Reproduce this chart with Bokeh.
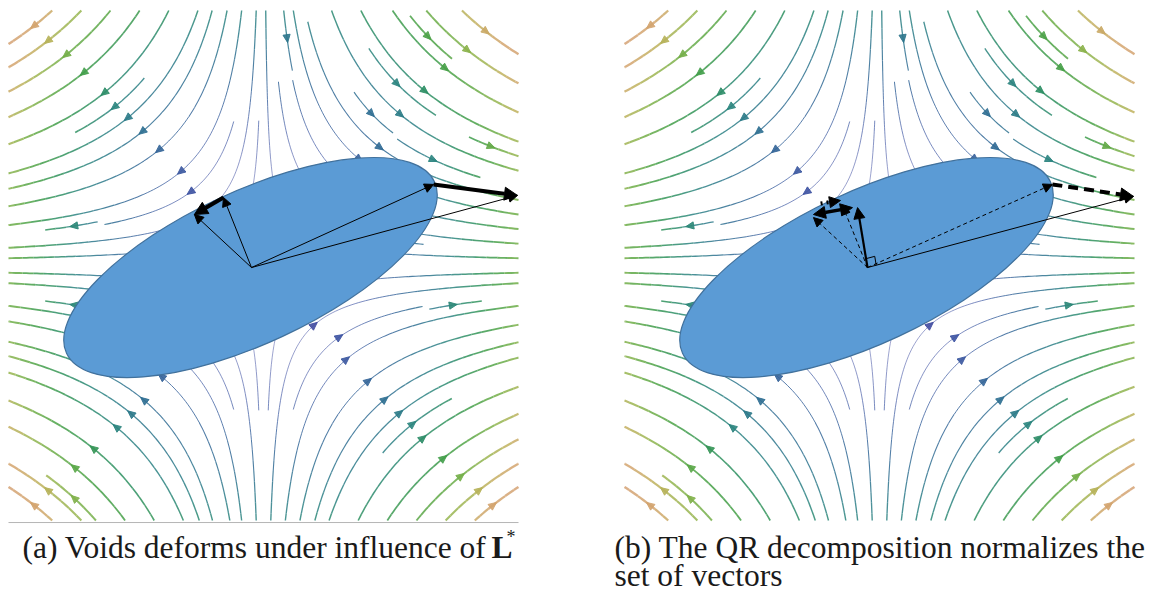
import numpy as np
from bokeh.plotting import figure
from bokeh.layouts import row
from bokeh.models import Range1d, Label, Arrow, NormalHead, ColumnDataSource
from bokeh.embed import file_html
from bokeh.resources import INLINE

# ------------------------------------------------------------------ data
L_STAR = [[1.0, 0.0], [0.0, -0.75]]         # velocity gradient of the flow
FIELD_EXTENT = [-1.0, 1.0, -1.0, 1.0]       # x0, x1, y0, y1
STREAM_DENSITY = 1.2

VOID_CENTER = [-0.051, -0.008]
VOID_WIDTH = 1.592
VOID_HEIGHT = 0.596
VOID_ANGLE_DEG = 25.0

VEC_ORIGIN = [-0.047, -0.008]
# panel (a): edge vectors of the void before / after deformation
A_EDGE1 = [-0.157, 0.267]
A_EDGE1_DEF = [-0.271, 0.200]
A_EDGE2 = [0.667, 0.318]
A_EDGE2_DEF = [0.996, 0.275]
# panel (b): QR decomposition
B_DASH1 = [-0.259, 0.188]
B_DASH2 = [-0.145, 0.235]
B_Q1 = [-0.086, 0.227]
B_STEP1 = [[-0.259, 0.200], [-0.106, 0.227]]
B_STEP2 = [[-0.231, 0.243], [-0.153, 0.255]]
B_EDGE2 = [0.678, 0.318]
B_EDGE2_DEF = [0.996, 0.271]

CAPTION_A = "(a) Voids deforms under influence of"
CAPTION_A_SYMBOL = "L"
CAPTION_A_SUP = "*"
CAPTION_B_1 = "(b) The QR decomposition normalizes the"
CAPTION_B_2 = "set of vectors"

SPEED_STOPS = [0.0, 0.4, 0.62, 0.74, 0.84, 0.92, 0.99, 1.04, 1.09, 1.14, 1.25]
COLOR_STOPS = ["#4b3f9e", "#3d55a3", "#2f6f92", "#2b8383", "#2f925e",
               "#45a048", "#6fae48", "#98b650", "#c0b25e", "#d3a56e", "#d9a07c"]

# ------------------------------------------------------------------ streamlines
L = np.array(L_STAR)
X0, X1, Y0, Y1 = FIELD_EXTENT
W, H = X1 - X0, Y1 - Y0


def field(x, y):
    return L[0, 0] * x + L[0, 1] * y, L[1, 0] * x + L[1, 1] * y


def spiral(n):
    xfirst, yfirst, xlast, ylast = 0, 1, n - 1, n - 1
    x = y = 0
    d = 'right'
    out = []
    for _ in range(n * n):
        out.append((x, y))
        if d == 'right':
            x += 1
            if x >= xlast:
                xlast -= 1
                d = 'up'
        elif d == 'up':
            y += 1
            if y >= ylast:
                ylast -= 1
                d = 'left'
        elif d == 'left':
            x -= 1
            if x <= xfirst:
                xfirst += 1
                d = 'down'
        else:
            y -= 1
            if y <= yfirst:
                yfirst += 1
                d = 'right'
    return out


def compute_streamlines():
    nm = int(30 * STREAM_DENSITY)
    mask = np.zeros((nm, nm), dtype=np.int8)
    ds = 0.25 / nm

    def cell(a, b):
        return int(round(a * (nm - 1))), int(round(b * (nm - 1)))

    def vel(a, b, sgn):
        u, v = field(X0 + a * W, Y0 + b * H)
        ua, va = u / W, v / H
        s = np.hypot(ua, va)
        if s < 1e-9:
            return None
        return sgn * ua / s, sgn * va / s

    def run(a, b, sgn, state, cells):
        pts, total = [], 0.0
        while True:
            k1 = vel(a, b, sgn)
            if k1 is None:
                break
            k2 = vel(a + 0.5 * ds * k1[0], b + 0.5 * ds * k1[1], sgn)
            if k2 is None:
                break
            na, nb = a + ds * k2[0], b + ds * k2[1]
            if not (0 <= na <= 1 and 0 <= nb <= 1):
                dx, dy = na - a, nb - b
                fr = 1.0
                for val, dd in ((a, dx), (b, dy)):
                    if dd > 0 and val + dd > 1:
                        fr = min(fr, (1 - val) / dd)
                    if dd < 0 and val + dd < 0:
                        fr = min(fr, -val / dd)
                pts.append((a + fr * dx, b + fr * dy))
                total += fr * ds
                break
            c = cell(na, nb)
            if c != state[0]:
                if mask[c[1], c[0]] == 0:
                    mask[c[1], c[0]] = 1
                    cells.append(c)
                    state[0] = c
                else:
                    break
            a, b = na, nb
            pts.append((a, b))
            total += ds
            if total > 2.0:
                break
        return pts, total

    trajs = []
    for xm, ym in spiral(nm):
        if mask[ym, xm] != 0:
            continue
        a, b = xm / (nm - 1), ym / (nm - 1)
        mask[ym, xm] = 1
        cells = [(xm, ym)]
        state = [(xm, ym)]
        back, sb = run(a, b, -1, state, cells)
        state[0] = (xm, ym)
        fwd, sf = run(a, b, 1, state, cells)
        if sb + sf > 0.1:
            pts = np.array(back[::-1] + [(a, b)] + fwd)
            xs = X0 + pts[:, 0] * W
            ys = Y0 + pts[:, 1] * H
            trajs.append((xs, ys))
        else:
            for cx, cy in cells:
                mask[cy, cx] = 0
    return trajs


def hex2rgb(h):
    return [int(h[i:i + 2], 16) for i in (1, 3, 5)]


STOP_RGB = np.array([hex2rgb(c) for c in COLOR_STOPS], dtype=float)


def speed_color(s):
    r = np.interp(s, SPEED_STOPS, STOP_RGB[:, 0])
    g = np.interp(s, SPEED_STOPS, STOP_RGB[:, 1])
    b = np.interp(s, SPEED_STOPS, STOP_RGB[:, 2])
    return "#%02x%02x%02x" % (int(r), int(g), int(b))


def speed_at(x, y):
    u, v = field(x, y)
    return float(np.hypot(u, v))


SMAX = speed_at(X1, Y1)
TRAJS = compute_streamlines()
PX = 255.0

seg_x, seg_y, seg_c, seg_w = [], [], [], []
tri_x, tri_y, tri_c = [], [], []
CHUNK = 3
for xs, ys in TRAJS:
    n = len(xs)
    for i in range(0, n - 1, CHUNK):
        j = min(i + CHUNK, n - 1)
        sx, sy = xs[i:j + 1], ys[i:j + 1]
        sp = speed_at(sx.mean(), sy.mean())
        seg_x.append(list(sx))
        seg_y.append(list(sy))
        seg_c.append(speed_color(sp))
        seg_w.append(0.4 + 2.2 * (sp / SMAX) ** 1.5)
    if n < 3:
        continue
    s = np.cumsum(np.hypot(np.diff(xs), np.diff(ys)))
    k = int(np.searchsorted(s, s[-1] / 2.0))
    k = min(k, n - 2)
    tx, ty = xs[k + 1], ys[k + 1]
    dx, dy = xs[k + 1] - xs[k], ys[k + 1] - ys[k]
    nrm = np.hypot(dx, dy)
    if nrm == 0:
        continue
    dx, dy = dx / nrm, dy / nrm
    hl, hw = 8.0 / PX, 3.6 / PX
    bx, by = tx - hl * dx, ty - hl * dy
    tri_x.append([tx, bx - hw * dy, bx + hw * dy])
    tri_y.append([ty, by + hw * dx, by - hw * dx])
    tri_c.append(speed_color(speed_at(tx, ty)))

# ------------------------------------------------------------------ figures
FIG_H = 592
Y_TOP = 265 / PX


def make_panel(width, center_px):
    x_lo = -center_px / PX
    p = figure(width=width, height=FIG_H,
               x_range=Range1d(x_lo, x_lo + width / PX),
               y_range=Range1d(Y_TOP - FIG_H / PX, Y_TOP),
               output_backend="svg", toolbar_location=None,
               x_axis_location=None, y_axis_location=None, min_border=0)
    p.grid.visible = False
    p.outline_line_color = None
    p.background_fill_color = "white"
    p.border_fill_color = "white"
    src = ColumnDataSource(dict(xs=seg_x, ys=seg_y, c=seg_c, w=seg_w))
    p.multi_line("xs", "ys", line_color="c", line_width="w", line_alpha=0.85,
                 line_join="round", source=src)
    tsrc = ColumnDataSource(dict(xs=tri_x, ys=tri_y, c=tri_c))
    p.patches("xs", "ys", fill_color="c", line_color="c", fill_alpha=0.9,
              line_alpha=0.9, source=tsrc)
    p.ellipse(x=[VOID_CENTER[0]], y=[VOID_CENTER[1]], width=VOID_WIDTH,
              height=VOID_HEIGHT, angle=np.deg2rad(VOID_ANGLE_DEG),
              fill_color="#5b9bd5", line_color="#41719c", line_width=1.2)
    return p


def arrow(p, a, b, lw=1.0, head=9, dash="solid", start_head=False):
    kw = {}
    if start_head:
        kw["start"] = NormalHead(size=head, fill_color="black", line_color="black", line_width=1)
    p.add_layout(Arrow(x_start=a[0], y_start=a[1], x_end=b[0], y_end=b[1],
                       line_width=lw, line_dash=dash, line_color="black",
                       end=NormalHead(size=head, fill_color="black",
                                      line_color="black", line_width=1), **kw))


def caption(p, text, x, y, size="31.5px", style="normal"):
    p.add_layout(Label(x=x, y=y, x_units="screen", y_units="screen", text=text,
                       text_font="Liberation Serif", text_font_size=size,
                       text_font_style=style, text_color="#1a1a1a",
                       text_baseline="alphabetic"))


# panel (a)
p1 = make_panel(577, 263)
p1.line([X0, X1], [-1.008, -1.008], line_color="#b5b5b5", line_width=1)
arrow(p1, VEC_ORIGIN, A_EDGE1, lw=1.0, head=9)
arrow(p1, VEC_ORIGIN, A_EDGE1_DEF, lw=1.0, head=9)
arrow(p1, VEC_ORIGIN, A_EDGE2, lw=1.0, head=9)
arrow(p1, VEC_ORIGIN, A_EDGE2_DEF, lw=1.0, head=9)
arrow(p1, A_EDGE1, A_EDGE1_DEF, lw=4.0, head=13)
arrow(p1, A_EDGE2, A_EDGE2_DEF, lw=4.0, head=13)
caption(p1, CAPTION_A, 22, 45)
caption(p1, CAPTION_A_SYMBOL, 491, 45, style="bold")
caption(p1, CAPTION_A_SUP, 506, 56, size="18px")

# panel (b)
p2 = make_panel(577, 302)
arrow(p2, VEC_ORIGIN, B_DASH1, lw=1.0, head=9, dash="4 3")
arrow(p2, VEC_ORIGIN, B_DASH2, lw=1.0, head=9, dash="4 3")
arrow(p2, VEC_ORIGIN, B_EDGE2, lw=1.0, head=9, dash="4 3")
arrow(p2, VEC_ORIGIN, B_EDGE2_DEF, lw=1.0, head=9)
arrow(p2, VEC_ORIGIN, B_Q1, lw=2.2, head=11)
arrow(p2, B_STEP1[0], B_STEP1[1], lw=3.5, head=12, start_head=True)
arrow(p2, B_STEP2[0], B_STEP2[1], lw=4.0, head=11, dash="2 4")
arrow(p2, B_EDGE2, B_EDGE2_DEF, lw=4.0, head=13, dash="10 6")
# right-angle marker between q1 and the long vector
o = np.array(VEC_ORIGIN)
e1 = np.array(B_EDGE2_DEF) - o
e1 /= np.linalg.norm(e1)
e2 = np.array(B_Q1) - o
e2 /= np.linalg.norm(e2)
sq = 9.0 / PX
pts = [o + sq * e1, o + sq * (e1 + e2), o + sq * e2]
p2.line([q[0] for q in pts], [q[1] for q in pts], line_color="black", line_width=1)
caption(p2, CAPTION_B_1, 37, 45)
caption(p2, CAPTION_B_2, 37, 17)

layout = row(p1, p2, spacing=0)
open("out.html", "w").write(file_html(layout, INLINE))
